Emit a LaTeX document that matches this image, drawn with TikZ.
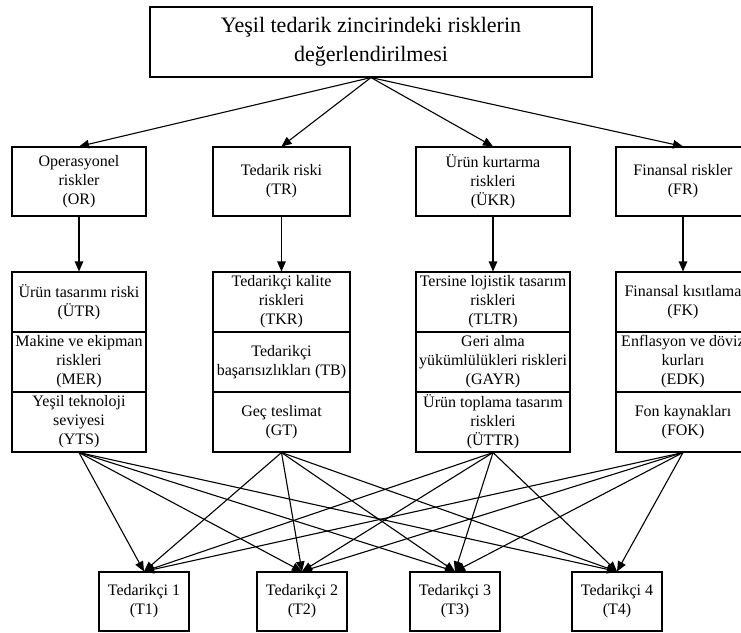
\documentclass[tikz,border=0pt]{standalone}
\usepackage{fontspec}
\setmainfont{Liberation Serif}
\usetikzlibrary{arrows.meta}

\begin{document}
\begin{tikzpicture}[x=1pt, y=-1pt,
      every node/.style = {shape=rectangle, draw, line width=1.1pt,
        align=center, inner sep=0pt,
        font=\fontsize{16}{19}\selectfont},
      cell/.style = {minimum height=60},
      arr/.style = {line width=1.1pt, -{Triangle[length=10pt,width=8.5pt]}}]
  \clip (0,0) rectangle (741,632);
  % ana hedef
  \node[minimum width=442, minimum height=70,
        font=\fontsize{22}{29}\selectfont] (top) at (371,42)
        {Yeşil tedarik zincirindeki risklerin\\değerlendirilmesi};
  % risk gruplari
  \node[minimum width=134, minimum height=69] (OR) at (79,181.5) {Operasyonel\\riskler\\(OR)};
  \node[minimum width=137, minimum height=69] (TR) at (281.5,181.5) {Tedarik riski\\(TR)};
  \node[minimum width=154, minimum height=69] (UKR) at (493,181.5) {Ürün kurtarma\\riskleri\\(ÜKR)};
  \node[minimum width=134, minimum height=69] (FR) at (683,181.5) {Finansal riskler\\(FR)};
  % alt kriterler
  \node[cell, minimum width=134] (UTR) at (79,302) {Ürün tasarımı riski\\(ÜTR)};
  \node[cell, minimum width=134] (MER) at (79,362) {Makine ve ekipman\\riskleri\\(MER)};
  \node[cell, minimum width=134] (YTS) at (79,422) {Yeşil teknoloji\\seviyesi\\(YTS)};
  \node[cell, minimum width=137] (TKR) at (281.5,302) {Tedarikçi kalite\\riskleri\\(TKR)};
  \node[cell, minimum width=137] (TB) at (281.5,362) {Tedarikçi\\başarısızlıkları (TB)};
  \node[cell, minimum width=137] (GT) at (281.5,422) {Geç teslimat\\(GT)};
  \node[cell, minimum width=154] (TLTR) at (493,302) {Tersine lojistik tasarım\\riskleri\\(TLTR)};
  \node[cell, minimum width=154] (GAYR) at (493,362) {Geri alma\\yükümlülükleri riskleri\\(GAYR)};
  \node[cell, minimum width=154] (UTTR) at (493,422) {Ürün toplama tasarım\\riskleri\\(ÜTTR)};
  \node[cell, minimum width=134] (FK) at (683,302) {Finansal kısıtlama\\(FK)};
  \node[cell, minimum width=134] (EDK) at (683,362) {Enflasyon ve döviz\\kurları\\(EDK)};
  \node[cell, minimum width=134] (FOK) at (683,422) {Fon kaynakları\\(FOK)};
  % tedarikciler
  \node[minimum width=90, minimum height=59] (T1) at (144,601.5) {Tedarikçi 1\\(T1)};
  \node[minimum width=90, minimum height=59] (T2) at (302,601.5) {Tedarikçi 2\\(T2)};
  \node[minimum width=90, minimum height=59] (T3) at (455,601.5) {Tedarikçi 3\\(T3)};
  \node[minimum width=90, minimum height=59] (T4) at (617,601.5) {Tedarikçi 4\\(T4)};

  \foreach \g/\s in {OR/UTR, TR/TKR, UKR/TLTR, FR/FK} {
    \draw[arr] (top.south) -- (\g.north);
    \draw[arr] (\g.south) -- (\s.north);
  }
  \foreach \s in {YTS, GT, UTTR, FOK}
    \foreach \t in {T1, T2, T3, T4}
      \draw[arr] (\s.south) -- (\t.north);
\end{tikzpicture}
\end{document}
